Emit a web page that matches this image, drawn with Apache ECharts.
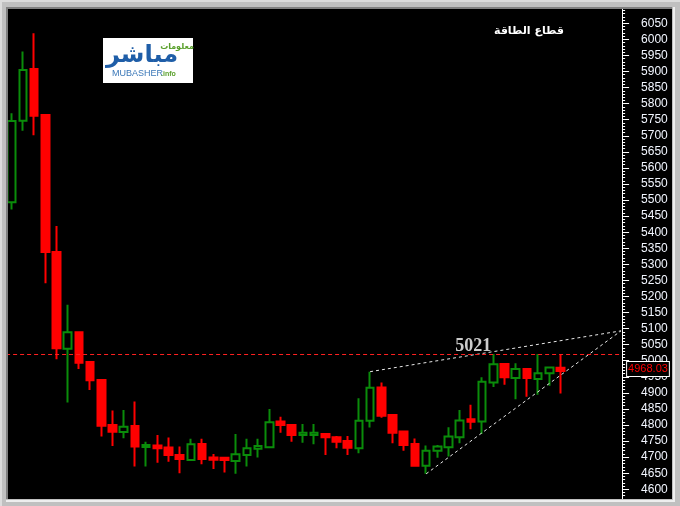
<!DOCTYPE html>
<html><head><meta charset="utf-8">
<script src="https://cdn.jsdelivr.net/npm/echarts@6/dist/echarts.min.js"></script>
<style>html,body{margin:0;padding:0;background:#c0c0c0}#c{width:680px;height:506px}</style>
</head><body><div id="c"></div>
<script>
// Category slots (50 sessions + 5 empty slots to the right)
const sessions = ['1','2','3','4','5','6','7','8','9','10','11','12','13','14','15','16','17','18','19','20',
  '21','22','23','24','25','26','27','28','29','30','31','32','33','34','35','36','37','38','39','40',
  '41','42','43','44','45','46','47','48','49','50','51','52','53','54','55'];
const openV  = [5493,5747,5908,5765,5338,5037,5089,4996,4940,4800,4778,4797,4732,4736,4730,4707,4691,4741,4699,4698,
  4688,4707,4726,4731,4811,4800,4769,4769,4772,4762,4750,4728,4813,4917,4831,4780,4741,4673,4720,4731,
  4762,4818,4811,4932,4990,4946,4974,4943,4961,4978];
const closeV = [5746,5905,5762,5338,5039,5089,4994,4939,4798,4779,4795,4733,4738,4728,4707,4694,4740,4694,4692,4691,
  4709,4728,4735,4809,4800,4769,4776,4776,4762,4748,4729,4813,4916,4829,4776,4738,4673,4720,4733,4764,
  4814,4810,4935,4989,4949,4974,4946,4961,4979,4968.03];
const lowV   = [5471,5716,5702,5241,5005,4870,4974,4909,4764,4735,4759,4671,4671,4683,4686,4650,4688,4678,4663,4652,
  4648,4671,4699,4731,4776,4748,4745,4740,4707,4728,4707,4712,4792,4823,4743,4720,4671,4648,4698,4702,
  4743,4787,4772,4918,4925,4880,4888,4894,4922,4898];
const highV  = [5770,5962,6019,5765,5419,5174,5089,4996,4940,4845,4847,4873,4748,4769,4761,4733,4757,4757,4710,4698,
  4772,4757,4757,4850,4826,4800,4803,4803,4772,4766,4766,4883,4966,4932,4831,4780,4758,4736,4738,4793,
  4847,4863,4949,5021,4990,4992,4974,5021,4979,5021];
const upperTrend = [[32, 4966], [54.4, 5093]];
const lowerTrend = [[37, 4648], [54.4, 5093]];
const resistanceLevel = 5021;
const lastPrice = 4968.03;
const resistanceLabelPos = [[41.2, 5045]];

const candles = openV.map((o, i) => [o, closeV[i], lowV[i], highV[i]]);

const chart = echarts.init(document.getElementById('c'), null, {renderer: 'canvas'});
const frameGray = '#c0c0c0';
chart.setOption({
  animation: false,
  backgroundColor: '#000000',
  grid: {left: 6.1, right: 57.9, top: 7.23, bottom: 0.63},
  xAxis: [
    {type: 'category', data: sessions, boundaryGap: true, show: false},
    {type: 'value', min: -0.5, max: 54.5, show: false}
  ],
  yAxis: {
    type: 'value', position: 'right', min: 4550, max: 6100, interval: 50, scale: true,
    splitLine: {show: false},
    axisLine: {show: true, onZero: false, lineStyle: {color: '#ffffff', width: 1}},
    axisTick: {show: true, length: 7, lineStyle: {color: '#ffffff'}},
    minorTick: {show: true, splitNumber: 5, length: 3, lineStyle: {color: '#ffffff'}},
    axisLabel: {color: '#f2f6ff', fontFamily: 'Liberation Sans', fontSize: 12, margin: 19,
      showMinLabel: false, showMaxLabel: false, hideOverlap: false, formatter: v => String(v)}
  },
  series: [
    {
      type: 'candlestick', data: candles, barWidth: 8,
      itemStyle: {color: '#000000', color0: '#ff0000', borderColor: '#0a8c0a', borderColor0: '#ff0000', borderWidth: 2},
      markLine: {
        symbol: ['none', 'none'], silent: true,
        data: [
          {yAxis: resistanceLevel, lineStyle: {color: '#ff2020', type: [4, 3], width: 1}, label: {show: false}},
          {yAxis: lastPrice, lineStyle: {color: 'rgba(0,0,0,0)', width: 1}, label: {show: true, position: 'end', distance: 5,
            offset: [0, -2],
            formatter: '4968.03', color: '#ff0000', fontFamily: 'Liberation Sans', fontSize: 11,
            backgroundColor: '#000000', borderColor: '#ffffff', borderWidth: 1, padding: [2, 1, 1, 1]}}
        ]
      }
    },
    {type: 'line', xAxisIndex: 1, data: upperTrend, symbol: 'none', silent: true,
      lineStyle: {color: '#e8e8e8', width: 1, type: [3, 3]}},
    {type: 'line', xAxisIndex: 1, data: lowerTrend, symbol: 'none', silent: true,
      lineStyle: {color: '#e8e8e8', width: 1, type: [3, 3]}},
    {type: 'scatter', xAxisIndex: 1, data: resistanceLabelPos, symbolSize: 0, silent: true,
      label: {show: true, position: 'inside', formatter: String(resistanceLevel), color: '#ffffff',
        fontFamily: 'Liberation Serif', fontWeight: 'bold', fontSize: 18}}
  ],
  graphic: [
    // frame
    {type: 'rect', z: 100, shape: {x: 0, y: 0, width: 680, height: 9}, style: {fill: frameGray}},
    {type: 'rect', z: 100, shape: {x: 0, y: 0, width: 8, height: 506}, style: {fill: frameGray}},
    {type: 'rect', z: 100, shape: {x: 672, y: 0, width: 8, height: 506}, style: {fill: frameGray}},
    {type: 'rect', z: 100, shape: {x: 0, y: 499, width: 680, height: 7}, style: {fill: frameGray}},
    {type: 'rect', z: 101, shape: {x: 0, y: 0, width: 680, height: 2}, style: {fill: '#dcdcdc'}},
    {type: 'rect', z: 101, shape: {x: 0, y: 0, width: 2, height: 506}, style: {fill: '#dcdcdc'}},
    {type: 'rect', z: 101, shape: {x: 6, y: 7, width: 666, height: 2}, style: {fill: '#808080'}},
    {type: 'rect', z: 101, shape: {x: 6, y: 7, width: 2, height: 492}, style: {fill: '#808080'}},
    {type: 'rect', z: 101, shape: {x: 673, y: 7, width: 2, height: 495}, style: {fill: '#eeeeee'}},
    {type: 'rect', z: 101, shape: {x: 6, y: 500, width: 669, height: 2}, style: {fill: '#eeeeee'}},
    // title
    {type: 'text', z: 50, style: {x: 529, y: 31, text: 'قطاع الطاقة', fill: '#ffffff',
      font: 'bold 11px "DejaVu Sans"', textAlign: 'center', textVerticalAlign: 'middle'}},
    // logo
    {type: 'rect', z: 50, shape: {x: 103, y: 38, width: 90, height: 45}, style: {fill: '#ffffff'}},
    {type: 'text', z: 51, style: {x: 142, y: 56, text: 'مباشر', fill: '#1f5ea8',
      font: 'bold 24px "DejaVu Sans"', textAlign: 'center', textVerticalAlign: 'middle'}},
    {type: 'text', z: 51, style: {x: 177, y: 47, text: 'معلومات', fill: '#5aa02c',
      font: 'bold 8px "DejaVu Sans"', textAlign: 'center', textVerticalAlign: 'middle'}},
    {type: 'text', z: 51, style: {x: 112, y: 74, text: 'MUBASHER', fill: '#3b78b8',
      font: '9px "Liberation Sans"', textAlign: 'left', textVerticalAlign: 'middle'}},
    {type: 'text', z: 51, style: {x: 161, y: 74.5, text: '.info', fill: '#5aa02c',
      font: 'bold 7px "Liberation Sans"', textAlign: 'left', textVerticalAlign: 'middle'}}
  ]
});
</script></body></html>
